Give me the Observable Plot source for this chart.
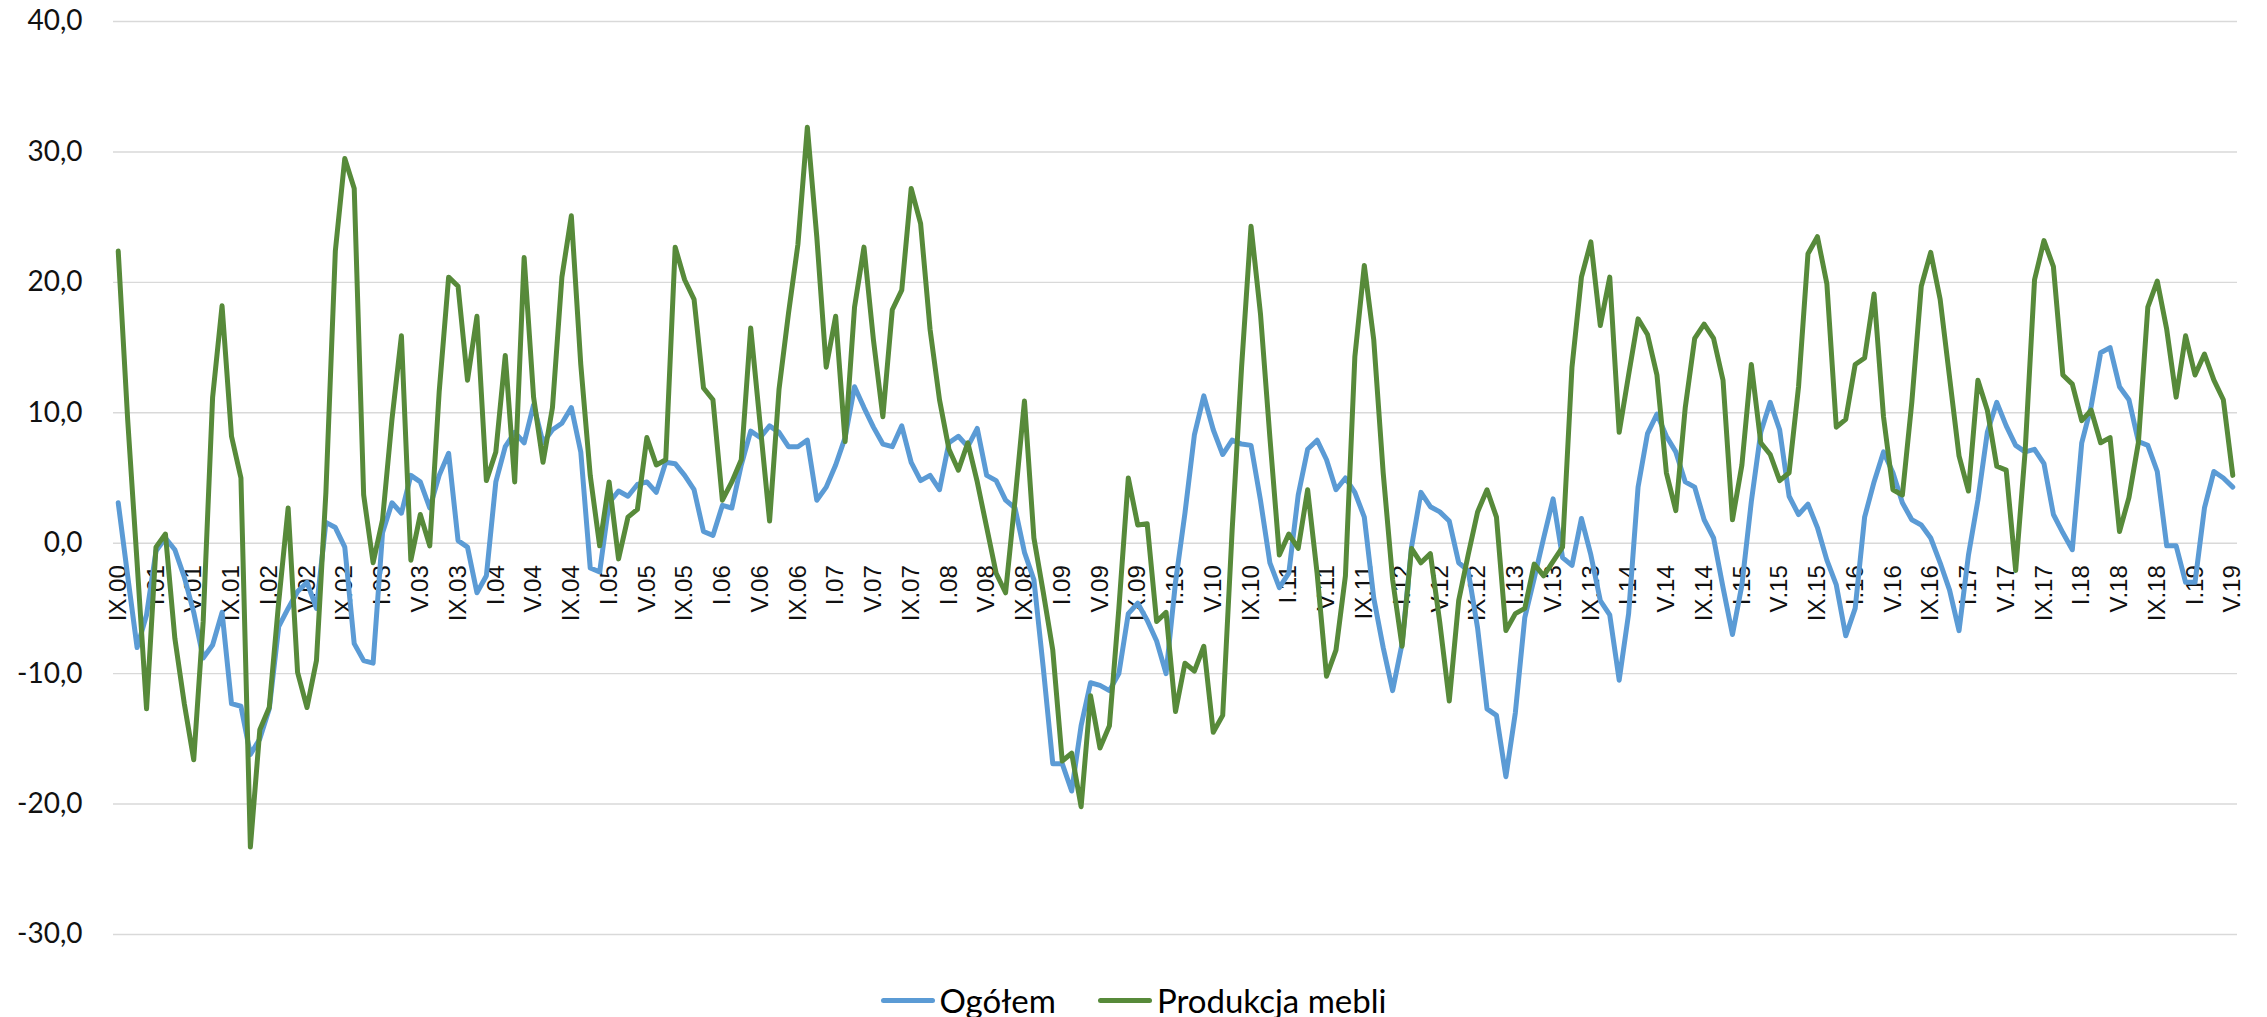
<!DOCTYPE html>
<html>
<head>
<meta charset="utf-8">
<script src="https://cdn.jsdelivr.net/npm/d3@7"></script>
<script src="https://cdn.jsdelivr.net/npm/@observablehq/plot@0.6"></script>
<style>
  html, body { margin: 0; padding: 0; background: #fff; overflow: hidden; }
  #chart { width: 2267px; }
  .legend {
    width: 2267px; height: 50px;
    display: flex; justify-content: center; align-items: center;
    font-family: Lato, "Open Sans", sans-serif; font-size: 33px; color: #000;
  }
  .item { display: flex; align-items: center; }
  .item + .item { margin-left: 42px; }
  .sw { width: 54px; height: 5px; border-radius: 3px; margin-right: 5px; }
</style>
</head>
<body>
<div id="chart"></div>
<div class="legend" id="legend"></div>
<script>
// Year-on-year change (%), monthly from IX.2000 to V.2019
const seriesNames = ["Ogółem", "Produkcja mebli"];
const seriesColors = ["#5B9BD5", "#578A3A"];

const ogolem = [
  3.1, -2.5, -8.0, -5.5, -0.6, 0.4, -0.5, -2.6, -5.3, -8.8,
  -7.8, -5.3, -12.3, -12.5, -16.2, -15.0, -12.7, -6.4, -5.0, -3.7,
  -3.0, -5.0, 1.6, 1.2, -0.3, -7.7, -9.0, -9.2, 0.8, 3.1,
  2.3, 5.2, 4.7, 2.7, 5.2, 6.9, 0.2, -0.3, -3.8, -2.5,
  4.7, 7.4, 8.5, 7.7, 10.6, 7.7, 8.7, 9.2, 10.4, 7.0,
  -1.9, -2.2, 3.1, 4.0, 3.6, 4.5, 4.7, 3.9, 6.2, 6.1,
  5.2, 4.1, 0.9, 0.6, 2.9, 2.7, 6.0, 8.6, 8.1, 9.0,
  8.5, 7.4, 7.4, 7.9, 3.3, 4.3, 6.0, 8.1, 12.0, 10.4,
  8.9, 7.6, 7.4, 9.0, 6.2, 4.8, 5.2, 4.1, 7.7, 8.2,
  7.4, 8.8, 5.2, 4.8, 3.3, 2.7, -0.7, -2.8, -9.6, -16.9,
  -16.9, -19.0, -14.0, -10.7, -10.9, -11.3, -10.0, -5.4, -4.6, -5.9,
  -7.5, -10.0, -3.0, 2.3, 8.3, 11.3, 8.7, 6.8, 7.9, 7.6,
  7.5, 3.3, -1.5, -3.4, -2.3, 3.7, 7.2, 7.9, 6.4, 4.1,
  5.0, 3.9, 2.0, -4.2, -8.0, -11.3, -7.7, -0.3, 3.9, 2.8,
  2.4, 1.7, -1.5, -2.1, -6.5, -12.7, -13.2, -17.9, -13.0, -5.7,
  -2.7, 0.4, 3.4, -1.1, -1.7, 1.9, -0.9, -4.4, -5.5, -10.5,
  -5.4, 4.3, 8.4, 9.9, 8.2, 7.0, 4.7, 4.3, 1.8, 0.4,
  -3.4, -7.0, -3.2, 3.2, 8.5, 10.8, 8.7, 3.6, 2.2, 3.0,
  1.2, -1.3, -3.2, -7.1, -5.0, 2.0, 4.7, 7.0, 5.4, 3.1,
  1.8, 1.4, 0.4, -1.5, -3.6, -6.7, -0.9, 3.3, 8.5, 10.8,
  9.0, 7.5, 7.0, 7.2, 6.1, 2.2, 0.8, -0.5, 7.7, 10.5,
  14.6, 15.0, 12.0, 11.0, 7.8, 7.5, 5.5, -0.2, -0.2, -3.0,
  -3.0, 2.7, 5.5, 5.0, 4.3
];

const meble = [
  22.4, 9.5, -1.5, -12.7, -0.3, 0.7, -7.3, -12.3, -16.6, -6.0,
  11.2, 18.2, 8.2, 5.0, -23.3, -14.3, -12.6, -4.5, 2.7, -9.9,
  -12.6, -9.0, 3.9, 22.4, 29.5, 27.2, 3.7, -1.5, 1.8, 9.5,
  15.9, -1.3, 2.2, -0.2, 11.6, 20.4, 19.7, 12.5, 17.4, 4.8,
  7.0, 14.4, 4.7, 21.9, 11.2, 6.2, 10.4, 20.4, 25.1, 13.7,
  5.2, -0.2, 4.7, -1.2, 2.0, 2.6, 8.1, 6.0, 6.4, 22.7,
  20.2, 18.7, 11.9, 11.0, 3.3, 4.7, 6.4, 16.5, 9.1, 1.7,
  11.8, 17.6, 22.9, 31.9, 23.5, 13.5, 17.4, 7.8, 18.1, 22.7,
  15.6, 9.7, 17.9, 19.4, 27.2, 24.5, 16.4, 11.0, 7.2, 5.6,
  7.7, 4.7, 1.2, -2.3, -3.8, 3.3, 10.9, 0.4, -3.8, -8.2,
  -16.7, -16.1, -20.2, -11.7, -15.7, -14.0, -5.0, 5.0, 1.4, 1.5,
  -6.0, -5.3, -12.9, -9.2, -9.8, -7.9, -14.5, -13.2, 1.0, 13.5,
  24.3, 17.6, 8.1, -0.9, 0.7, -0.4, 4.1, -2.3, -10.2, -8.2,
  -2.5, 14.3, 21.3, 15.6, 5.4, -2.8, -7.9, -0.4, -1.5, -0.8,
  -6.1, -12.1, -4.4, -0.9, 2.4, 4.1, 2.0, -6.7, -5.4, -5.0,
  -1.6, -2.5, -1.4, -0.3, 13.5, 20.4, 23.1, 16.7, 20.4, 8.5,
  12.9, 17.2, 16.0, 12.9, 5.4, 2.5, 10.4, 15.7, 16.8, 15.7,
  12.5, 1.8, 6.0, 13.7, 7.7, 6.8, 4.8, 5.4, 12.0, 22.2,
  23.5, 19.9, 8.9, 9.5, 13.7, 14.2, 19.1, 9.7, 4.1, 3.7,
  10.8, 19.7, 22.3, 18.7, 12.7, 6.7, 4.0, 12.5, 10.2, 5.9,
  5.6, -2.1, 7.0, 20.2, 23.2, 21.2, 12.9, 12.2, 9.4, 10.2,
  7.7, 8.1, 0.9, 3.5, 7.7, 18.1, 20.1, 16.4, 11.2, 15.9,
  12.9, 14.5, 12.5, 11.0, 5.2
];

// Category labels shown every fourth month
const tickLabels = [
  "IX.00", "I.01", "V.01", "IX.01", "I.02", "V.02", "IX.02", "I.03", "V.03", "IX.03",
  "I.04", "V.04", "IX.04", "I.05", "V.05", "IX.05", "I.06", "V.06", "IX.06", "I.07",
  "V.07", "IX.07", "I.08", "V.08", "IX.08", "I.09", "V.09", "IX.09", "I.10", "V.10",
  "IX.10", "I.11", "V.11", "IX.11", "I.12", "V.12", "IX.12", "I.13", "V.13", "IX.13",
  "I.14", "V.14", "IX.14", "I.15", "V.15", "IX.15", "I.16", "V.16", "IX.16", "I.17",
  "V.17", "IX.17", "I.18", "V.18", "IX.18", "I.19", "V.19"
];
const tickStep = 4;
const yTicks = [-30, -20, -10, 0, 10, 20, 30, 40];

const ticks = tickLabels.map((label, k) => ({i: k * tickStep, label}));
const nMonths = ogolem.length;
const fmt = d => d.toFixed(1).replace(".", ",");

const plot = Plot.plot({
  width: 2267,
  height: 975,
  marginLeft: 113,
  marginRight: 30,
  marginTop: 21,
  marginBottom: 41,
  x: {type: "linear", domain: [-0.5, nMonths - 0.5], axis: null},
  y: {domain: [-30, 40], axis: null},
  style: {fontFamily: "'Liberation Sans', Arial, sans-serif", background: "#fff", overflow: "visible"},
  marks: [
    // horizontal gridlines
    Plot.ruleY(yTicks, {stroke: "#d9d9d9", strokeWidth: 1.4}),
    // value labels on the left
    Plot.text(yTicks, {
      y: d => d, frameAnchor: "left", dx: -31, textAnchor: "end",
      text: fmt, fontSize: 28, fontFamily: "Lato, 'Liberation Sans', sans-serif", fill: "#111"
    }),
    // period labels hanging below the zero line
    Plot.text(ticks, {
      x: "i", y: () => 0, text: "label", rotate: -90, textAnchor: "end",
      dy: 22, fontSize: 24, fill: "#111"
    }),
    Plot.line(ogolem, {
      x: (d, i) => i, y: d => d, stroke: seriesColors[0], strokeWidth: 5,
      strokeLinejoin: "round", strokeLinecap: "round"
    }),
    Plot.line(meble, {
      x: (d, i) => i, y: d => d, stroke: seriesColors[1], strokeWidth: 5,
      strokeLinejoin: "round", strokeLinecap: "round"
    })
  ]
});
document.getElementById("chart").appendChild(plot);

const legend = document.getElementById("legend");
seriesNames.forEach((name, k) => {
  const item = document.createElement("div");
  item.className = "item";
  const sw = document.createElement("div");
  sw.className = "sw";
  sw.style.background = seriesColors[k];
  const label = document.createElement("span");
  label.textContent = name;
  item.appendChild(sw);
  item.appendChild(label);
  legend.appendChild(item);
});
</script>
</body>
</html>
